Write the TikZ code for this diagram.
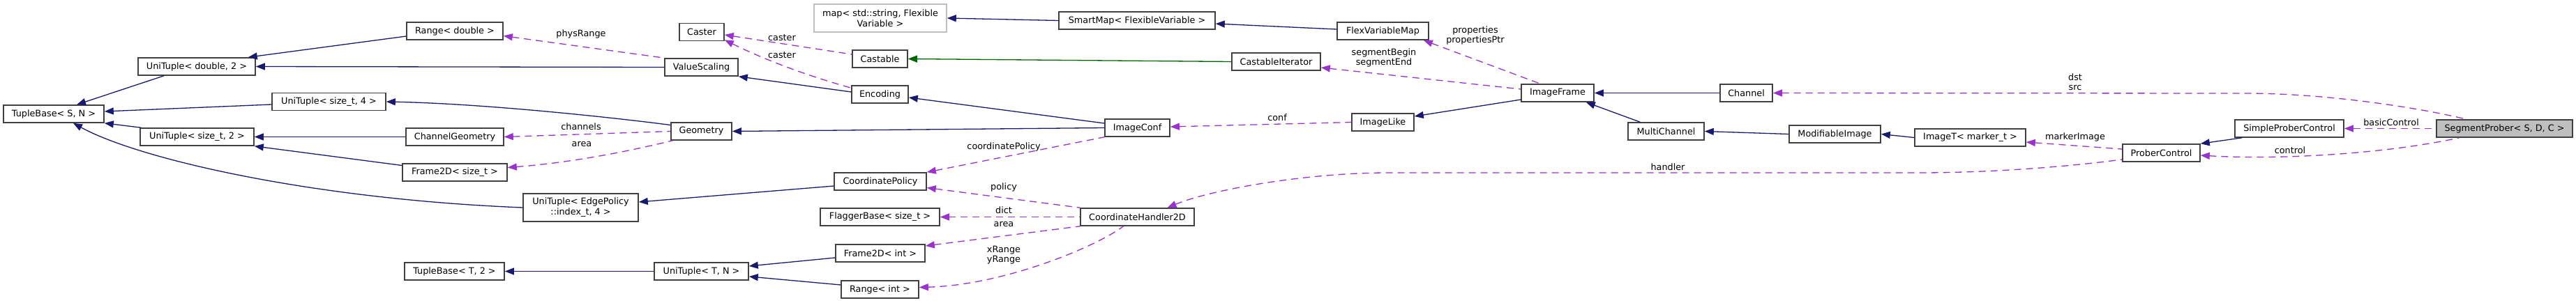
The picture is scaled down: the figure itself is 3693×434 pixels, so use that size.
\documentclass[tikz,border=0pt]{standalone}
\usepackage{fontspec}
\setmainfont{DejaVu Sans}
\usetikzlibrary{arrows.meta}
\definecolor{inhblue}{HTML}{191970}
\definecolor{mbrpurple}{HTML}{9A32CD}
\definecolor{protgreen}{HTML}{006400}
\tikzset{
  cls/.style={draw=black!75, fill=white, line width=1.6pt, minimum height=25pt, inner sep=0pt, align=center, font=\fontsize{12.8}{15}\selectfont},
  lbl/.style={inner sep=0pt, align=center, font=\fontsize{12.8}{14}\selectfont},
  inh/.style={draw=inhblue, line width=1.3pt, {Triangle[length=13pt,width=10pt]}-},
  prot/.style={inh, draw=protgreen},
  mbr/.style={draw=mbrpurple, line width=1.3pt, dash pattern=on 10pt off 7pt, {Triangle[length=13pt,width=10pt]}-}
}
\begin{document}
\begin{tikzpicture}[x=1pt, y=-1pt]
    \useasboundingbox (0,0) rectangle (3693,434);
    \node[cls, minimum width=144pt] (tbsn) at (77,163.5) {TupleBase< S, N >};
    \node[cls, minimum width=168pt] (unidbl) at (282,95.5) {UniTuple< double, 2 >};
    \node[cls, minimum width=163pt] (unisz2) at (282.5,196.5) {UniTuple< size\_t, 2 >};
    \node[cls, minimum width=163pt] (unisz4) at (471.5,146) {UniTuple< size\_t, 4 >};
    \node[cls, minimum width=138pt] (rngdbl) at (652,44.5) {Range< double >};
    \node[cls, minimum width=140pt] (chgeom) at (652,196.5) {ChannelGeometry};
    \node[cls, minimum width=150pt] (frmsz) at (652,247.5) {Frame2D< size\_t >};
    \node[cls, minimum width=165pt, minimum height=40pt] (uniedge) at (832.5,298) {UniTuple< EdgePolicy\\::index\_t, 4 >};
    \node[cls, minimum width=143pt] (tbt2) at (651.5,389.5) {TupleBase< T, 2 >};
    \node[cls, minimum width=64pt] (caster) at (1006,46) {Caster};
    \node[cls, minimum width=105pt] (valscale) at (1005.5,96.5) {ValueScaling};
    \node[cls, minimum width=87pt] (geom) at (1005.5,188.5) {Geometry};
    \node[cls, minimum width=135pt] (unitn) at (1005.5,389.5) {UniTuple< T, N >};
    \node[cls, draw=black!25, minimum width=190pt, minimum height=40pt] (stdmap) at (1262,26) {map< std::string, Flexible\\Variable >};
    \node[cls, minimum width=79pt] (castable) at (1261.5,84.5) {Castable};
    \node[cls, minimum width=81pt] (encoding) at (1261.5,135.5) {Encoding};
    \node[cls, minimum width=132pt] (coordpol) at (1262,260.5) {CoordinatePolicy};
    \node[cls, minimum width=171pt] (flagger) at (1261.5,311.5) {FlaggerBase< size\_t >};
    \node[cls, minimum width=128pt] (frmint) at (1262,363.5) {Frame2D< int >};
    \node[cls, minimum width=111pt] (rngint) at (1261.5,415.5) {Range< int >};
    \node[cls, minimum width=224pt] (smartmap) at (1630,29.5) {SmartMap< FlexibleVariable >};
    \node[cls, minimum width=93pt] (imgconf) at (1630.5,183.5) {ImageConf};
    \node[cls, minimum width=163pt] (coordhdl) at (1630.5,311.5) {CoordinateHandler2D};
    \node[cls, minimum width=127pt] (castiter) at (1829.5,88.5) {CastableIterator};
    \node[cls, minimum width=131pt] (flexmap) at (1982.5,44.5) {FlexVariableMap};
    \node[cls, minimum width=89pt] (imglike) at (1982.5,175.5) {ImageLike};
    \node[cls, minimum width=104pt] (imgframe) at (2233,133.5) {ImageFrame};
    \node[cls, minimum width=109pt] (multich) at (2388.5,188.5) {MultiChannel};
    \node[cls, minimum width=75pt] (channel) at (2503.5,133.5) {Channel};
    \node[cls, minimum width=131pt] (modimg) at (2630.5,192.5) {ModifiableImage};
    \node[cls, minimum width=159pt] (imgt) at (2824.5,197.5) {ImageT< marker\_t >};
    \node[cls, minimum width=111pt] (probctl) at (3098.5,219.5) {ProberControl};
    \node[cls, minimum width=156pt] (simplectl) at (3282,184.5) {SimpleProberControl};
    \node[cls, fill=black!25, minimum width=195pt] (segprob) at (3590.5,184.5) {SegmentProber< S, D, C >};

    \draw[inh] ([xshift=33pt]tbsn.north) -- ([xshift=-47pt]unidbl.south);
    \draw[inh] ([yshift=3.5pt]tbsn.east) -- ([yshift=-4pt]unisz4.west);
    \draw[inh] (tbsn.south east) -- ([xshift=2pt]unisz2.north west);
    \draw[inh] ([xshift=28pt]tbsn.south) .. controls +(95,52) and +(-300,-12) .. (uniedge.west);
    \draw[inh] ([xshift=-11pt]unidbl.north east) -- ([yshift=-7.5pt]rngdbl.west);
    \draw[inh] (unidbl.east) -- (valscale.west);
    \draw[inh] (unisz2.east) -- (chgeom.west);
    \draw[inh] (unisz2.south east) -- ([yshift=10pt]frmsz.west);
    \draw[inh] (unisz4.east) .. controls +(150,3) and +(-60,-8) .. ([yshift=9pt]geom.west);
    \draw[mbr] (chgeom.east) -- (geom.west);
    \draw[mbr] ([yshift=7pt]frmsz.east) .. controls +(103,-8) and +(-45,11) .. ([xshift=3pt]geom.south west);
    \draw[mbr] ([yshift=-7pt]rngdbl.east) -- (valscale.north west);
    \draw[mbr] ([yshift=-4pt]caster.east) -- ([yshift=6.5pt]castable.west);
    \draw[mbr] ([yshift=2pt]caster.south east) .. controls +(30,15) and +(-90,-25) .. ([yshift=-4pt]encoding.north west);
    \draw[inh] (valscale.south east) -- ([yshift=3.5pt]encoding.west);
    \draw[inh] ([yshift=-4.5pt]encoding.east) -- ([yshift=6.5pt]imgconf.west);
    \draw[inh] (geom.east) -- (imgconf.west);
    \draw[mbr] (coordpol.north east) -- (imgconf.south west);
    \draw[mbr] ([yshift=-9pt]coordpol.east) -- (coordhdl.north west);
    \draw[mbr] (flagger.east) -- (coordhdl.west);
    \draw[mbr] ([yshift=10.5pt]frmint.east) -- (coordhdl.south west);
    \draw[mbr] ([yshift=3pt]rngint.east) .. controls +(120,-3) and +(-40,30) .. ([xshift=-20pt]coordhdl.south);
    \draw[inh] ([yshift=7.5pt]unitn.east) -- ([yshift=-6.5pt]frmint.west);
    \draw[inh] ([yshift=-7.5pt]unitn.east) -- ([yshift=6.5pt]rngint.west);
    \draw[inh] (tbt2.east) -- (unitn.west);
    \draw[inh] ([yshift=8pt]uniedge.east) -- ([yshift=-6.5pt]coordpol.west);
    \draw[inh] (stdmap.east) -- (smartmap.west);
    \draw[inh] ([yshift=-4.5pt]smartmap.east) -- ([yshift=2.5pt]flexmap.west);
    \draw[prot] (castable.east) -- (castiter.west);
    \draw[mbr] ([xshift=-8pt]flexmap.south east) -- ([xshift=-25pt]imgframe.north);
    \draw[mbr] ([yshift=-8.5pt]castiter.east) -- ([yshift=5.5pt]imgframe.west);
    \draw[inh] ([yshift=8.5pt]imglike.east) -- ([yshift=-9.5pt]imgframe.west);
    \draw[mbr] ([yshift=1.5pt]imgconf.east) -- (imglike.west);
    \draw[inh] (imgframe.east) -- (channel.west);
    \draw[inh] ([xshift=-12pt]imgframe.south east) -- ([xshift=18pt]multich.north west);
    \draw[inh] (multich.east) -- (modimg.west);
    \draw[inh] (modimg.east) -- (imgt.west);
    \draw[mbr] ([yshift=-6.5pt]imgt.east) -- ([yshift=5.5pt]probctl.west);
    \draw[mbr] ([xshift=43pt]coordhdl.north) .. controls +(60,-25) and +(-120,0) .. (1990,248) -- (2750,248) .. controls +(120,0) and +(-60,8) .. ([yshift=-9.5pt]probctl.west);
    \draw[inh] (probctl.north east) -- ([xshift=11pt]simplectl.south west);
    \draw[mbr] (channel.east) -- (3220,134) .. controls +(120,0) and +(-60,-15) .. ([xshift=-55pt]segprob.north);
    \draw[mbr] (simplectl.east) -- (segprob.west);
    \draw[mbr] ([yshift=-3.5pt]probctl.east) .. controls +(120,7) and +(-100,22) .. ([xshift=-65pt]segprob.south);

    \node[lbl] (lphys) at (833,49) {physRange};
    \node[lbl] (lchan) at (833,182) {channels};
    \node[lbl] (larea) at (834,207) {area};
    \node[lbl] (lcast) at (1121,54) {caster};
    \node[lbl] (lcast2) at (1121,79) {caster};
    \node[lbl] (lcpol) at (1439,211) {coordinatePolicy};
    \node[lbl] (lpol) at (1439,269) {policy};
    \node[lbl] (ldict) at (1439,302) {dict};
    \node[lbl] (larea2) at (1439,322) {area};
    \node[lbl] (lrange) at (1439,366) {xRange\\yRange};
    \node[lbl] (lconf) at (1831,169) {conf};
    \node[lbl] (lseg) at (1984,83) {segmentBegin\\segmentEnd};
    \node[lbl] (lprop) at (2115,51) {properties\\propertiesPtr};
    \node[lbl] (lhdl) at (2391,240) {handler};
    \node[lbl] (ldst) at (2975,118) {dst\\src};
    \node[lbl] (lmark) at (2975,197) {markerImage};
    \node[lbl] (lbasic) at (3428,176) {basicControl};
    \node[lbl] (lctl) at (3283,216) {control};
\end{tikzpicture}
\end{document}
